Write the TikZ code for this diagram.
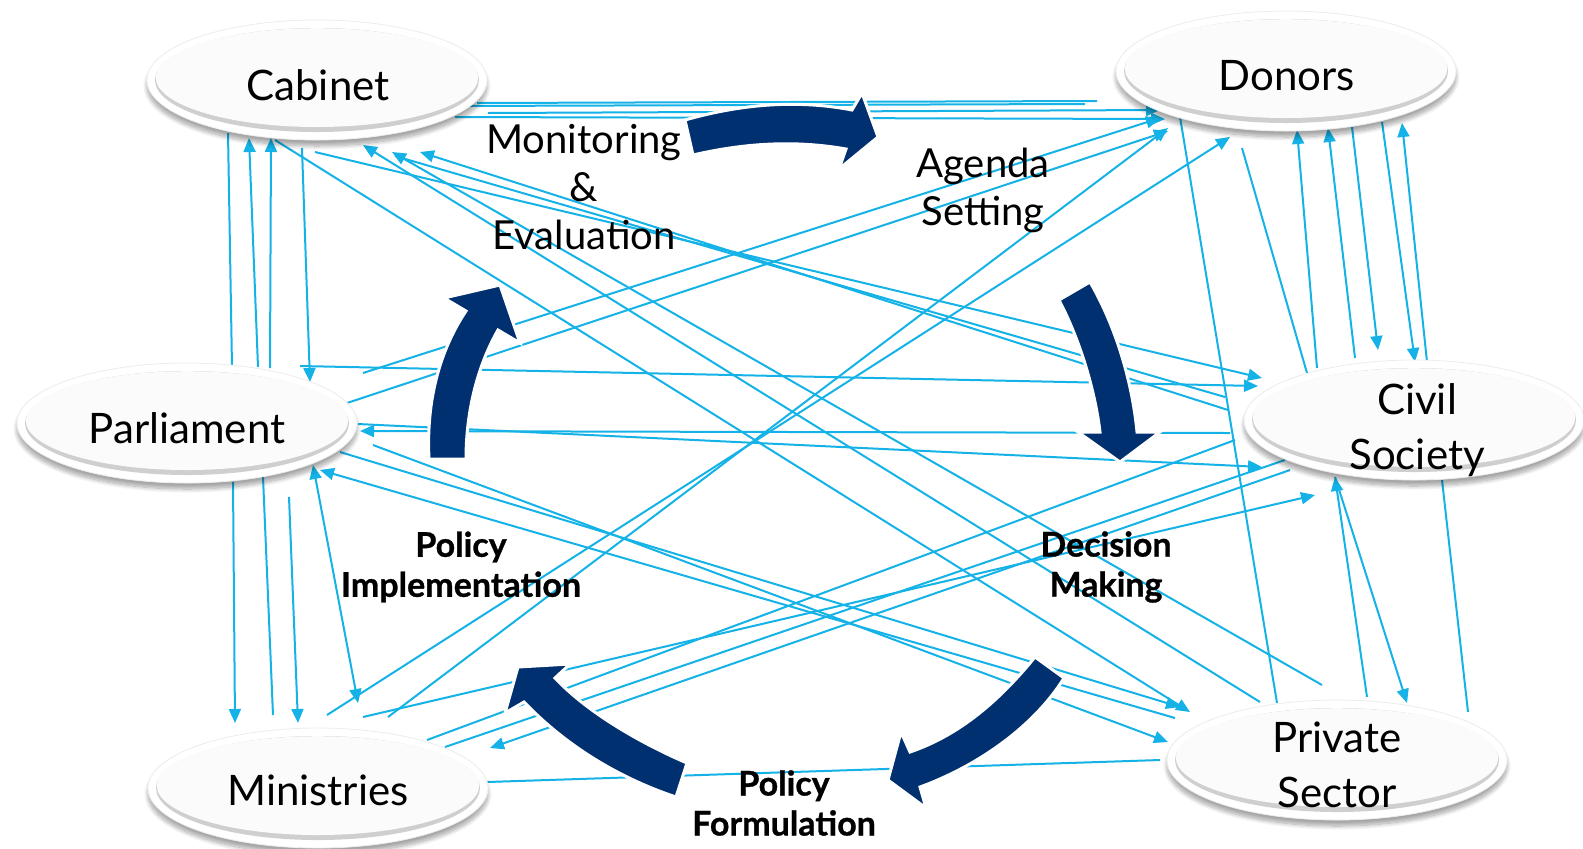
\documentclass[tikz,border=0pt]{standalone}
\usepackage{fontspec}
\setmainfont{Lato}
\newfontfamily\heavy[FakeBold=0.9]{Lato}
\usetikzlibrary{arrows.meta,shadows.blur,shapes.geometric,calc}
\definecolor{lb}{RGB}{20,178,230}
\definecolor{navy}{RGB}{0,48,112}
\tikzset{
 conn/.style={lb, line width=1pt},
 ar/.style={conn, -{Triangle[length=7pt,width=6pt]}},
 bar/.style={conn, {Triangle[length=7pt,width=6pt]}-{Triangle[length=7pt,width=6pt]}},
 bubble/.style={ellipse, minimum width=170pt, minimum height=60pt, inner sep=0pt, fill=white, draw=gray!15, line width=0.4pt,
   blur shadow={shadow xshift=0pt, shadow yshift=-3pt, shadow opacity=35, shadow blur steps=10},
   path picture={
   \fill[gray!38] (path picture bounding box.center) ellipse [x radius=81pt, y radius=26pt];
   \fill[gray!3] ([yshift=1.2pt]path picture bounding box.center) ellipse [x radius=80.6pt, y radius=24.7pt];
 }},
 lbl/.style={font=\fontsize{21}{27.5}\selectfont, align=center, inner sep=0pt},
 cyc/.style={font=\fontsize{20}{24}\selectfont, align=center, inner sep=0pt},
 bcyc/.style={font=\heavy\bfseries\fontsize{17}{20}\selectfont, align=center, inner sep=0pt},
 big/.style={fill=navy, draw=white, line width=1.5pt, line join=miter},
}
\begin{document}
\begin{tikzpicture}[x=0.5pt,y=-0.5pt]
\useasboundingbox (0,0) rectangle (1583,848);
\clip (0,0) rectangle (1583,848);
% ---- light blue mesh ----
% Cabinet - Donors
\draw[conn] (477,103) -- (1097,101);
\draw[conn] (453,106) -- (1085,104);
\draw[ar] (488,113) -- (1160,110);
\draw[ar] (455,117) -- (1165,119);
% Cabinet - Parliament
\draw[conn] (228,133) -- (232,367);
\draw[ar] (258,367) -- (249,138);
\draw[ar] (270,368) -- (271,138);
\draw[ar] (302,148) -- (310,382);
% Cabinet diagonals
\draw[ar] (275,140) -- (1190,712);
\draw[ar] (315,152) -- (1262,378);
\draw[ar] (1260,702) -- (363,145);
\draw[ar] (1322,685) -- (392,152);
\draw[ar] (1228,410) -- (420,152);
\draw[conn] (1225,397) -- (395,156);
% Parliament
\draw[ar] (300,366) -- (1258,386);
\draw[ar] (363,373) -- (1160,118);
\draw[ar] (347,403) -- (1168,131);
\draw[ar] (1230,433) -- (360,431);
\draw[ar] (358,424) -- (1262,467);
\draw[ar] (340,452) -- (1180,707);
\draw[ar] (373,445) -- (1168,742);
\draw[ar] (1175,718) -- (320,470);
\draw[bar] (313,465) -- (358,703);
\draw[ar] (233,482) -- (235,723);
\draw[conn] (263,477) -- (273,715);
\draw[ar] (289,497) -- (298,723);
% Ministries
\draw[ar] (327,715) -- (1230,137);
\draw[ar] (388,717) -- (1168,128);
\draw[ar] (363,717) -- (1315,495);
\draw[conn] (427,740) -- (1235,440);
\draw[conn] (445,747) -- (1285,460);
\draw[ar] (1290,470) -- (490,748);
\draw[conn] (487,782) -- (1160,760);
% Private Sector - Civil Society
\draw[ar] (1367,697) -- (1335,477);
\draw[ar] (1335,477) -- (1407,703);
\draw[conn] (1442,480) -- (1468,712);
\draw[conn] (1180,117) -- (1277,703);
% Donors - Civil Society
\draw[conn] (1242,148) -- (1307,373);
\draw[ar] (1317,368) -- (1297,130);
\draw[ar] (1355,358) -- (1328,128);
\draw[ar] (1352,127) -- (1378,350);
\draw[ar] (1382,122) -- (1415,362);
\draw[ar] (1427,362) -- (1402,123);
% ---- policy cycle arrows ----
\path[big] (685,120) .. controls (745,103) and (800,100) .. (852,110) -- (862,93) -- (878,137) -- (839,169) -- (846,149) .. controls (795,140) and (745,143) .. (693,155) -- cycle;
\path[big] (1059,300) .. controls (1080,340) and (1095,390) .. (1100,432) -- (1078,432) -- (1120,462) -- (1160,432) -- (1137,432) .. controls (1132,380) and (1115,325) .. (1090,282) -- cycle;
\path[big] (1035,657) .. controls (1000,700) and (960,735) .. (910,752) -- (901,732) -- (888,780) -- (926,808) -- (920,787) .. controls (980,765) and (1035,725) .. (1064,678) -- cycle;
\path[big] (687,763) .. controls (645,745) and (590,715) .. (555,678) -- (570,664) -- (518,667) -- (505,713) -- (524,702) .. controls (570,750) and (625,780) .. (676,797) -- cycle;
\path[big] (429,459) .. controls (426,400) and (440,350) .. (466,311) -- (444,298) -- (500,285) -- (520,343) -- (498,330) .. controls (478,365) and (466,410) .. (466,459) -- cycle;
% ---- actors ----
\node[bubble] (cab) at (317,80) {};
\node[bubble] (don) at (1286,71) {};
\node[bubble] (par) at (187,423) {};
\node[bubble] (civ) at (1414,420) {};
\node[bubble] (min) at (318,788) {};
\node[bubble] (pri) at (1337,760) {};
\node[lbl] (cabT) at (318,85) {Cabinet};
\node[lbl] (donT) at (1287,76) {Donors};
\node[lbl] (parT) at (187,428) {Parliament};
\node[lbl] (civT) at (1417,430) {Civil\\Society};
\node[lbl] (minT) at (318,790) {Ministries};
\node[lbl] (priT) at (1337,765) {Private\\Sector};
% ---- stage labels ----
\node[cyc] (me) at (584,187) {Monitoring\\\&\\Evaluation};
\node[cyc] (as) at (983,190) {Agenda\\Setting};
\node[bcyc] (dm) at (1106,567) {Decision\\Making};
\node[bcyc] (pi) at (461,567) {Policy\\Implementation};
\node[bcyc] (pf) at (784,803) {Policy\\Formulation};
\end{tikzpicture}
\end{document}
